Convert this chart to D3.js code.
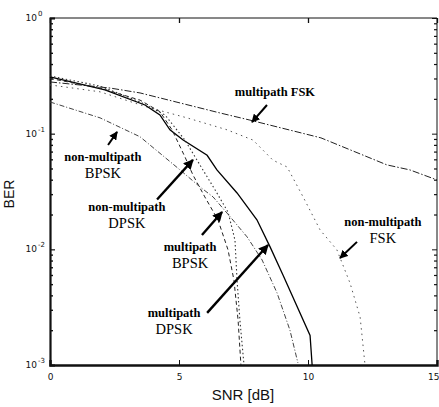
<!DOCTYPE html>
<html>
<head>
<meta charset="utf-8">
<script src="https://cdn.jsdelivr.net/npm/d3@7"></script>
<style>
  html, body { margin: 0; padding: 0; background: #fff; }
  svg { display: block; }
</style>
</head>
<body>
<svg id="chart" width="439" height="407"></svg>
<script>
// ---- data (SNR in dB, BER) ----
const xTicks = [0, 5, 10, 15];
const yTicks = [1, 0.1, 0.01, 0.001];
const yTickExp = ["0", "-1", "-2", "-3"];

const multipathFSK_snr = [0, 2.33, 3.49, 6.59, 7.75, 10.5, 13.06, 13.95, 15];
const multipathFSK_ber = [0.28, 0.248, 0.225, 0.151, 0.131, 0.092, 0.0537, 0.0486, 0.0398];

const nonmultipathFSK_snr = [0, 1.94, 3.76, 5.31, 6.86, 7.87, 8.64, 9.19, 9.81, 10.47, 11.12, 11.63, 12.02, 12.21];
const nonmultipathFSK_ber = [0.264, 0.23, 0.17, 0.137, 0.108, 0.088, 0.059, 0.0515, 0.0284, 0.0147, 0.0099, 0.0051, 0.0026, 0.001];

const multipathDPSK_snr = [0, 2.13, 3.68, 4.26, 4.65, 5.16, 6.09, 6.47, 7.25, 8.02, 8.53, 9.03, 10.08, 10.16];
const multipathDPSK_ber = [0.31, 0.239, 0.177, 0.145, 0.108, 0.088, 0.065, 0.0486, 0.0307, 0.018, 0.0105, 0.006, 0.0018, 0.001];

const nonmultipathDPSK_snr = [0, 1.94, 3.49, 4.26, 4.73, 5.23, 5.54, 6.0, 6.51, 6.9, 7.13, 7.29, 7.4];
const nonmultipathDPSK_ber = [0.30, 0.248, 0.195, 0.155, 0.108, 0.063, 0.044, 0.0284, 0.018, 0.0099, 0.0054, 0.00245, 0.001];

const multipathBPSK_snr = [0, 1.94, 3.49, 4.46, 5.23, 5.81, 6.40, 6.9, 7.17, 7.25, 7.36, 7.52];
const multipathBPSK_ber = [0.315, 0.258, 0.188, 0.145, 0.088, 0.0537, 0.0326, 0.021, 0.012, 0.0054, 0.00245, 0.001];

const nonmultipathBPSK_snr = [0, 1.94, 3.49, 5.04, 5.81, 6.32, 6.86, 7.64, 8.22, 8.80, 9.30, 9.61];
const nonmultipathBPSK_ber = [0.188, 0.137, 0.094, 0.0486, 0.0347, 0.0284, 0.0206, 0.0128, 0.0081, 0.0042, 0.002, 0.00104];

// annotations: label lines, text anchor (snr, ber), arrow tail & tip (snr, ber)
const annoText = [
  { lines: ["multipath FSK"], at: [8.72, 0.212], tail: [8.41, 0.177], tip: [7.83, 0.126] },
  { lines: ["non-multipath", "BPSK"], at: [2.05, 0.058], tail: [2.25, 0.0798], tip: [2.6, 0.1035] },
  { lines: ["non-multipath", "DPSK"], at: [2.98, 0.0215], tail: [4.15, 0.027], tip: [5.54, 0.0593] },
  { lines: ["multipath", "BPSK"], at: [5.43, 0.0097], tail: [5.89, 0.0133], tip: [6.67, 0.021] },
  { lines: ["multipath", "DPSK"], at: [4.81, 0.0026], tail: [6.09, 0.00282], tip: [8.45, 0.0109] },
  { lines: ["non-multipath", "FSK"], at: [12.9, 0.0159], tail: [11.9, 0.0116], tip: [11.24, 0.0084] }
];

// ---- layout ----
const svg = d3.select("#chart");
const L = 50, R = 437, T = 18, B = 365;
const x = d3.scaleLinear().domain([0, 15]).range([L, R]);
const y = d3.scaleLog().domain([0.001, 1]).range([B, T]);

const ink = "#111";

// minor log ticks (left & right)
const minor = [];
for (let e = -3; e < 0; e++) for (let m = 2; m <= 9; m++) minor.push(m * Math.pow(10, e));

const g = svg.append("g");

// frame: top & right thin, left & bottom thick
g.append("line").attr("x1", L).attr("x2", R).attr("y1", T).attr("y2", T).attr("stroke", ink).attr("stroke-width", 1);
g.append("line").attr("x1", R).attr("x2", R).attr("y1", T).attr("y2", B).attr("stroke", ink).attr("stroke-width", 1);

// left axis
const yAxisL = d3.axisLeft(y).tickValues(yTicks).tickSize(-5).tickFormat("");
const gl = g.append("g").attr("transform", `translate(${L},0)`).call(yAxisL);
gl.select(".domain").attr("stroke", ink).attr("stroke-width", 2.2);
gl.selectAll(".tick line").attr("stroke", ink).attr("stroke-width", 1.2);
const yMinorL = d3.axisLeft(y).tickValues(minor).tickSize(-3).tickFormat("");
const glm = g.append("g").attr("transform", `translate(${L},0)`).call(yMinorL);
glm.select(".domain").remove();
glm.selectAll(".tick line").attr("stroke", ink).attr("stroke-width", 1.4);

// right axis ticks
const yAxisR = d3.axisRight(y).tickValues(yTicks).tickSize(-5).tickFormat("");
const gr = g.append("g").attr("transform", `translate(${R},0)`).call(yAxisR);
gr.select(".domain").remove();
gr.selectAll(".tick line").attr("stroke", ink);
const yMinorR = d3.axisRight(y).tickValues(minor).tickSize(-3).tickFormat("");
const grm = g.append("g").attr("transform", `translate(${R},0)`).call(yMinorR);
grm.select(".domain").remove();
grm.selectAll(".tick line").attr("stroke", ink).attr("stroke-width", 1.2);

// bottom axis
const xAxisB = d3.axisBottom(x).tickValues(xTicks).tickSize(-5).tickPadding(9).tickFormat(d3.format("d"));
const gb = g.append("g").attr("transform", `translate(0,${B})`).call(xAxisB);
gb.select(".domain").attr("stroke", ink).attr("stroke-width", 2.4);
gb.selectAll(".tick line").attr("stroke", ink);
gb.selectAll(".tick text").attr("font-family", "DejaVu Sans, sans-serif").attr("font-size", 9).attr("fill", ink)
  .attr("text-anchor", d => d === 15 ? "end" : "middle")
  .attr("dx", d => d === 15 ? 2 : 0);

// top axis ticks
const xAxisT = d3.axisTop(x).tickValues(xTicks).tickSize(-5).tickFormat("");
const gt = g.append("g").attr("transform", `translate(0,${T})`).call(xAxisT);
gt.select(".domain").remove();
gt.selectAll(".tick line").attr("stroke", ink).attr("stroke-width", 1.3);

// y tick labels with superscripts
yTicks.forEach((v, i) => {
  g.append("text")
    .attr("x", L - 13).attr("y", y(v) + 3)
    .attr("text-anchor", "end")
    .attr("font-family", "DejaVu Sans, sans-serif").attr("font-size", 9).attr("fill", ink)
    .text("10");
  g.append("text")
    .attr("x", L - 12).attr("y", y(v) - 2)
    .attr("font-family", "DejaVu Sans, sans-serif").attr("font-size", 7).attr("fill", ink)
    .text(yTickExp[i]);
});

// axis titles
g.append("text").attr("x", 243).attr("y", 400)
  .attr("text-anchor", "middle")
  .attr("font-family", "Liberation Sans, Arial, sans-serif").attr("font-size", 15).attr("fill", ink)
  .text("SNR [dB]");
g.append("text").attr("transform", `translate(14,194) rotate(-90)`)
  .attr("text-anchor", "middle")
  .attr("font-family", "Liberation Sans, Arial, sans-serif").attr("font-size", 14).attr("fill", ink)
  .text("BER");

// ---- curves ----
const line = d3.line().x(d => x(d[0])).y(d => y(d[1]));
const series = [
  { snr: multipathFSK_snr, ber: multipathFSK_ber, color: "#222", width: 1, dash: "7,2,1.5,2" },
  { snr: nonmultipathFSK_snr, ber: nonmultipathFSK_ber, color: "#555", width: 1, dash: "1.5,4" },
  { snr: multipathDPSK_snr, ber: multipathDPSK_ber, color: "#000", width: 1.3, dash: null },
  { snr: nonmultipathDPSK_snr, ber: nonmultipathDPSK_ber, color: "#222", width: 1, dash: "4,3" },
  { snr: multipathBPSK_snr, ber: multipathBPSK_ber, color: "#333", width: 1.1, dash: "1.5,2.5" },
  { snr: nonmultipathBPSK_snr, ber: nonmultipathBPSK_ber, color: "#444", width: 1, dash: "5,2,1,2" }
];
series.forEach(s => {
  const pts = s.snr.map((v, i) => [v, s.ber[i]]);
  const p = g.append("path").datum(pts)
    .attr("d", line)
    .attr("fill", "none")
    .attr("stroke", s.color)
    .attr("stroke-width", s.width);
  if (s.dash) p.attr("stroke-dasharray", s.dash);
});

// ---- annotations ----
const defs = svg.append("defs");
defs.append("marker").attr("id", "ah").attr("viewBox", "0 0 10 10")
  .attr("refX", 9).attr("refY", 5).attr("markerWidth", 4.2).attr("markerHeight", 4.2)
  .attr("markerUnits", "strokeWidth").attr("orient", "auto")
  .append("path").attr("d", "M0,0 L10,5 L0,10 Z").attr("fill", "#000");

annoText.forEach((a, k) => {
  g.append("line")
    .attr("x1", x(a.tail[0])).attr("y1", y(a.tail[1]))
    .attr("x2", x(a.tip[0])).attr("y2", y(a.tip[1]))
    .attr("stroke", "#000").attr("stroke-width", (k === 1 || k === 0 || k === 5) ? 2 : 2.4)
    .attr("marker-end", "url(#ah)");
  const tx = x(a.at[0]), ty = y(a.at[1]);
  a.lines.forEach((ln, j) => {
    const isMod = j > 0;
    g.append("text")
      .attr("x", tx).attr("y", ty + j * 17)
      .attr("text-anchor", "middle")
      .attr("font-family", "Liberation Serif, Times New Roman, serif")
      .attr("font-size", isMod ? 14.5 : 12.5)
      .attr("font-weight", isMod ? "normal" : "bold")
      .attr("fill", "#000")
      .text(ln);
  });
});
</script>
</body>
</html>
